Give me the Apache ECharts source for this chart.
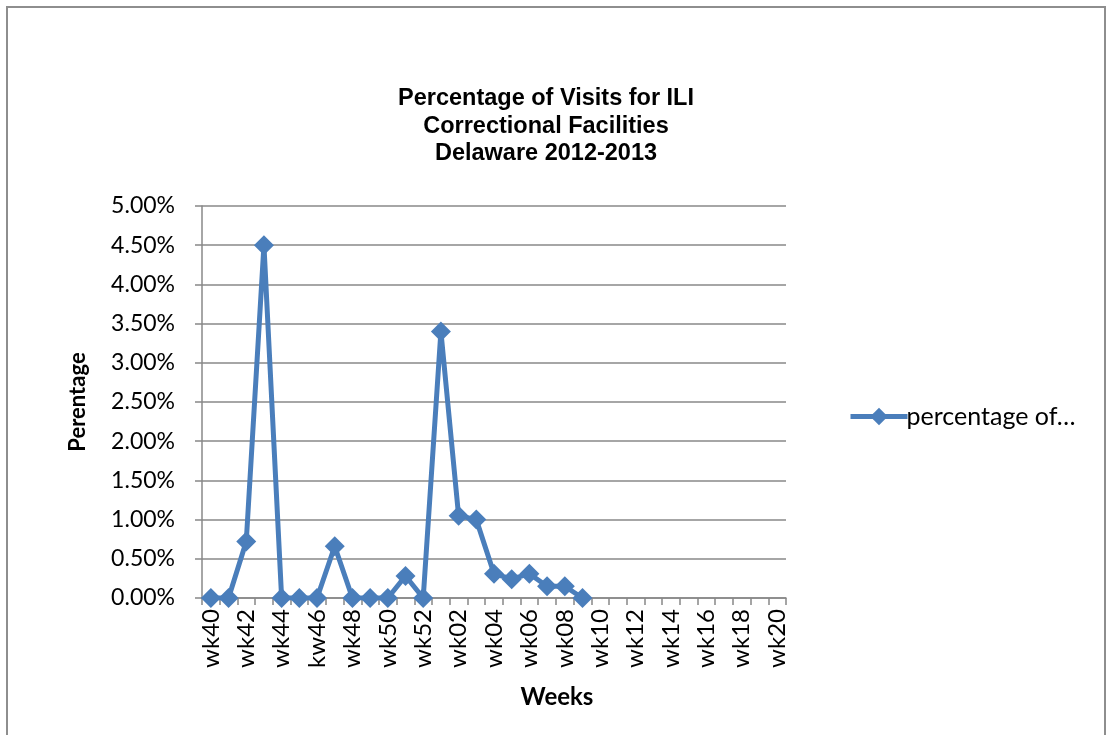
<!DOCTYPE html>
<html>
<head>
<meta charset="utf-8">
<script src="https://cdn.jsdelivr.net/npm/echarts@6/dist/echarts.min.js"></script>
<style>
  html, body { margin: 0; padding: 0; background: #fff; overflow: hidden; }
  #frame { position: absolute; left: 6px; top: 6px; width: 1096px; height: 800px; border: 2px solid #8e8e8e; border-bottom: none; }
  #chart { position: absolute; left: 0; top: 0; width: 1106px; height: 735px; }
</style>
</head>
<body>
<div id="frame"></div>
<div id="chart"></div>
<script>
// week labels (kw46 typo is in the original)
const weeks = [
  'wk40', 'wk41', 'wk42', 'wk43', 'wk44', 'wk45', 'kw46', 'wk47', 'wk48', 'wk49', 'wk50', 'wk51', 'wk52',
  'wk01', 'wk02', 'wk03', 'wk04', 'wk05', 'wk06', 'wk07', 'wk08', 'wk09', 'wk10',
  'wk11', 'wk12', 'wk13', 'wk14', 'wk15', 'wk16', 'wk17', 'wk18', 'wk19', 'wk20'
]
// percentage of visits, in %
const pctVisits = [
  0, 0, 0.72, 4.5, 0, 0, 0, 0.66, 0, 0, 0, 0.28, 0,
  3.4, 1.05, 1.0, 0.31, 0.24, 0.31, 0.15, 0.15, 0
]
const seriesName = 'percentage of…'

const chart = echarts.init(document.getElementById('chart'))
const labelFont = 'Lato, Carlito, Calibri, sans-serif'
const gridColor = '#888888'
const lineColor = '#4a7ebb'

chart.setOption({
  animation: false,
  // 标题
  title: {
    text: 'Percentage of Visits for ILI\nCorrectional Facilities\nDelaware 2012-2013',
    left: 541,
    top: 80,
    textAlign: 'center',
    textStyle: {
      fontFamily: '"Liberation Sans", Arial, sans-serif',
      fontWeight: 'bold',
      fontSize: 23.5,
      lineHeight: 27.5,
      color: '#000',
    },
  },
  // x轴标题不在绘图区正中，单独放
  graphic: [
    {
      type: 'text',
      x: 557,
      y: 697,
      style: {
        text: 'Weeks',
        align: 'center',
        verticalAlign: 'middle',
        font: 'bold 24px Lato, Carlito, Calibri, sans-serif',
        fill: '#000',
      },
    },
  ],
  legend: {
    left: 843,
    top: 399,
    itemWidth: 57,
    itemHeight: 22,
    itemGap: 4,
    lineStyle: { width: 5 },
    textStyle: { fontFamily: labelFont, fontSize: 25, color: '#000', padding: [0, 0, 0, -6] },
    data: [seriesName],
  },
  grid: { left: 202, right: 320, top: 206, bottom: 137, containLabel: false },
  xAxis: {
    type: 'category',
    data: weeks,
    boundaryGap: true,
    axisLine: { lineStyle: { color: gridColor, width: 1.5 } },
    axisTick: { show: true, interval: 0, length: 7, lineStyle: { color: gridColor, width: 1.5 } },
    axisLabel: {
      interval: 1,
      rotate: 90,
      margin: 11,
      fontFamily: labelFont,
      fontSize: 24,
      color: '#000',
    },
    splitLine: { show: false },
  },
  yAxis: {
    type: 'value',
    min: 0,
    max: 5,
    interval: 0.5,
    name: 'Perentage',
    nameLocation: 'middle',
    nameGap: 113,
    nameTextStyle: { fontFamily: labelFont, fontWeight: 'bold', fontSize: 22, color: '#000' },
    axisLine: { show: true, lineStyle: { color: gridColor, width: 1.5 } },
    axisTick: { show: true, length: 7, lineStyle: { color: gridColor, width: 1.5 } },
    axisLabel: {
      margin: 27,
      fontFamily: labelFont,
      fontSize: 23,
      color: '#000',
      formatter: (v) => v.toFixed(2) + '%',
    },
    splitLine: { show: true, lineStyle: { color: gridColor, width: 1.5 } },
  },
  series: [
    {
      name: seriesName,
      type: 'line',
      data: pctVisits,
      symbol: 'diamond',
      symbolSize: 20,
      showAllSymbol: true,
      color: lineColor,
      lineStyle: { width: 5, color: lineColor },
      itemStyle: { color: lineColor },
    },
  ],
})
</script>
</body>
</html>
